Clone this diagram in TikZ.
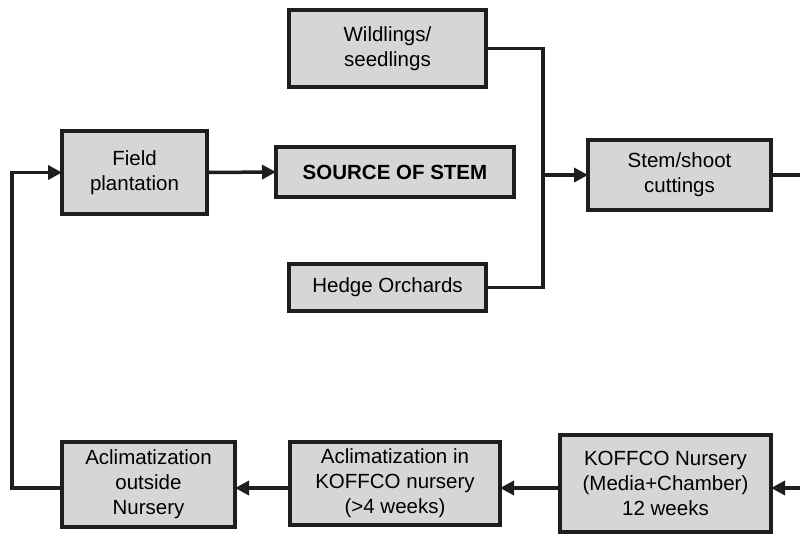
\documentclass[tikz,border=0pt]{standalone}
\usepackage{fontspec}
\setmainfont{Liberation Sans}
\usetikzlibrary{arrows.meta}
\definecolor{boxfill}{HTML}{D6D6D6}
\definecolor{ink}{HTML}{1E1E1E}
\begin{document}
\begin{tikzpicture}[x=1pt,y=-1pt,
  box/.style={draw=ink,fill=boxfill,line width=4pt,rectangle,align=center,
    font=\fontsize{20.5}{25}\selectfont,inner sep=0pt,outer sep=0pt},
  conn/.style={draw=ink,line width=3.5pt},
  arr/.style={conn,-{Triangle[length=14pt,width=14pt]}}]
\useasboundingbox (0,0) rectangle (800,538);
\node[box,minimum width=197,minimum height=77] (w) at (387.5,48.5) {Wildlings/\\seedlings};
\node[box,minimum width=145,minimum height=83] (f) at (134.5,172.5) {Field\\plantation};
\node[box,minimum width=238,minimum height=50,font=\fontsize{20.5}{25}\selectfont\bfseries] (src) at (395,172) {SOURCE OF STEM};
\node[box,minimum width=183,minimum height=70] (s) at (679.5,175) {Stem/shoot\\cuttings};
\node[box,minimum width=197,minimum height=47] (h) at (387.5,287.5) {Hedge Orchards};
\node[box,minimum width=173,minimum height=85] (o) at (148.5,484.5) {Aclimatization\\outside\\Nursery};
\node[box,minimum width=210,minimum height=83] (a) at (395,483.5) {Aclimatization in\\KOFFCO nursery\\(>4 weeks)};
\node[box,minimum width=211,minimum height=97] (k) at (665.5,483.5) {KOFFCO Nursery\\(Media+Chamber)\\12 weeks};
\coordinate (j) at (543,175);
\coordinate (rOut) at (800,175);
\coordinate (rIn) at (800,488);
\coordinate (row) at (0,488);
\coordinate (lp) at (12,330);
\draw[conn] (w.east) -| (j) |- (h.east);
\draw[arr] (j) -- (s.west);
\draw[arr] (f.east) -- (src.west);
\draw[conn] (s.east) -- (rOut);
\draw[arr] (rIn) -- (k.east |- rIn);
\draw[arr] (k.west |- row) -- (a.east |- row);
\draw[arr] (a.west |- row) -- (o.east |- row);
\draw[arr] (o.west |- row) -| (lp) |- (f.west);
\end{tikzpicture}
\end{document}
